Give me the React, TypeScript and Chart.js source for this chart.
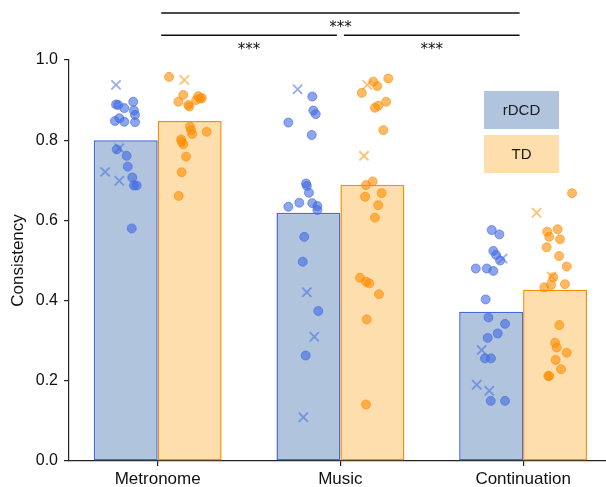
import React, { useEffect, useRef } from "react";
import { Chart, registerables } from "chart.js";

Chart.register(...registerables);

const categories = ["Metronome", "Music", "Continuation"];
const seriesNames = ["rDCD", "TD"];
const rdcdMean = [0.8, 0.619, 0.372];
const tdMean = [0.848, 0.689, 0.427];
const yTicks = [0, 0.2, 0.4, 0.6, 0.8, 1.0];

// [x = category index + jitter, consistency]
const rdcdCircles: number[][] = [
  [-0.228, 0.889], [-0.216, 0.888], [-0.183, 0.88], [-0.134, 0.896], [-0.13, 0.874],
  [-0.124, 0.863], [-0.21, 0.855], [-0.234, 0.848], [-0.183, 0.846], [-0.124, 0.845],
  [-0.224, 0.777], [-0.17, 0.761], [-0.164, 0.734], [-0.139, 0.707], [-0.13, 0.687],
  [-0.115, 0.687], [-0.142, 0.58],
  [0.846, 0.909], [0.852, 0.874], [0.865, 0.865], [0.715, 0.844], [0.843, 0.813],
  [0.812, 0.692], [0.816, 0.686], [0.828, 0.669], [0.715, 0.634], [0.775, 0.644],
  [0.846, 0.643], [0.874, 0.636], [0.874, 0.626], [0.802, 0.559], [0.794, 0.497],
  [0.879, 0.374], [0.81, 0.263],
  [1.828, 0.576], [1.87, 0.565], [1.837, 0.524], [1.852, 0.514], [1.874, 0.5],
  [1.741, 0.48], [1.801, 0.48], [1.837, 0.474], [1.795, 0.403], [1.81, 0.358],
  [1.901, 0.342], [1.861, 0.318], [1.806, 0.307], [1.791, 0.256], [1.824, 0.256],
  [1.823, 0.15], [1.901, 0.15],
];
const rdcdCrosses: number[][] = [
  [-0.228, 0.938], [-0.21, 0.78], [-0.288, 0.721], [-0.21, 0.699],
  [0.766, 0.927], [0.816, 0.421], [0.857, 0.31], [0.797, 0.109],
  [1.888, 0.505], [1.773, 0.277], [1.746, 0.19], [1.815, 0.175],
];
const tdCircles: number[][] = [
  [0.062, 0.958], [0.14, 0.913], [0.113, 0.896], [0.167, 0.888], [0.173, 0.884],
  [0.222, 0.91], [0.232, 0.904], [0.21, 0.9], [0.242, 0.905], [0.177, 0.834],
  [0.182, 0.825], [0.189, 0.815], [0.268, 0.821], [0.128, 0.802], [0.131, 0.796],
  [0.14, 0.79], [0.155, 0.759], [0.131, 0.72], [0.115, 0.661],
  [1.262, 0.954], [1.18, 0.946], [1.202, 0.935], [1.117, 0.918], [1.25, 0.896],
  [1.207, 0.886], [1.189, 0.881], [1.235, 0.825], [1.177, 0.697], [1.14, 0.688],
  [1.226, 0.668], [1.135, 0.659], [1.207, 0.638], [1.189, 0.607], [1.107, 0.457],
  [1.14, 0.447], [1.158, 0.443], [1.211, 0.416], [1.144, 0.353], [1.14, 0.141],
  [2.268, 0.668], [2.132, 0.572], [2.189, 0.578], [2.143, 0.559], [2.202, 0.553],
  [2.129, 0.533], [2.197, 0.511], [2.239, 0.485], [2.165, 0.458], [2.153, 0.439],
  [2.116, 0.433], [2.229, 0.441], [2.198, 0.339], [2.175, 0.295], [2.184, 0.283],
  [2.239, 0.27], [2.178, 0.252], [2.208, 0.229], [2.138, 0.212], [2.143, 0.212],
];
const tdCrosses: number[][] = [
  [0.146, 0.95],
  [1.147, 0.938], [1.129, 0.761],
  [2.074, 0.619], [2.157, 0.46],
];

const brackets = [
  { from: 0, to: 2, level: 1.117 },
  { from: 0, to: 1, level: 1.062 },
  { from: 1, to: 2, level: 1.062 },
];
const bracketLabel = "***";

const FONT = '"Liberation Sans", Arial, sans-serif';
const BLUE_FILL = "rgb(176,196,222)";
const BLUE_EDGE = "rgb(65,105,225)";
const BLUE_PT = "rgba(65,105,225,0.6)";
const ORANGE_FILL = "rgb(255,222,173)";
const ORANGE_EDGE = "rgb(255,140,0)";
const ORANGE_PT = "rgba(255,140,0,0.6)";

const overlayPlugin = {
  id: "overlay",
  afterDraw(chart: any) {
    const { ctx } = chart;
    const x = chart.scales.x;
    const y = chart.scales.y;
    ctx.save();
    ctx.strokeStyle = "#111";
    ctx.lineWidth = 1.5;
    ctx.fillStyle = "#111";
    ctx.font = '15px "DejaVu Sans", sans-serif';
    ctx.textAlign = "center";
    ctx.textBaseline = "alphabetic";
    brackets.forEach((b) => {
      const x1 = x.getPixelForValue(b.from) + 3.5;
      const x2 = x.getPixelForValue(b.to) - 3.5;
      const py = y.getPixelForValue(b.level);
      ctx.beginPath();
      ctx.moveTo(x1, py);
      ctx.lineTo(x2, py);
      ctx.stroke();
      ctx.fillText(bracketLabel, (x1 + x2) / 2, py + 19);
    });
    // legend boxes
    const fills = [BLUE_FILL, ORANGE_FILL];
    const bx = chart.chartArea.right - 122;
    const bw = 75;
    const bh = 38;
    ctx.font = "15px " + FONT;
    ctx.textBaseline = "middle";
    seriesNames.forEach((name, i) => {
      const by = 91 + i * 44;
      ctx.fillStyle = fills[i];
      ctx.fillRect(bx, by, bw, bh);
      ctx.fillStyle = "#1a1a1a";
      ctx.fillText(name, bx + bw / 2, by + bh / 2 + 1);
    });
    ctx.restore();
  },
};

export default function App() {
  const ref = useRef<HTMLCanvasElement | null>(null);
  useEffect(() => {
    if (!ref.current) return;
    const toPts = (arr: number[][]) => arr.map(([a, b]) => ({ x: a, y: b }));
    const chart = new Chart(ref.current, {
      type: "bar",
      data: {
        datasets: [
          {
            type: "bar",
            label: seriesNames[0],
            data: rdcdMean.map((v, i) => ({ x: i, y: v })) as any,
            backgroundColor: BLUE_FILL,
            borderColor: BLUE_EDGE,
            borderWidth: 1.5,
            borderSkipped: false,
            categoryPercentage: 0.7,
            barPercentage: 1.0,
            order: 2,
          },
          {
            type: "bar",
            label: seriesNames[1],
            data: tdMean.map((v, i) => ({ x: i, y: v })) as any,
            backgroundColor: ORANGE_FILL,
            borderColor: ORANGE_EDGE,
            borderWidth: 1.5,
            borderSkipped: false,
            categoryPercentage: 0.7,
            barPercentage: 1.0,
            order: 2,
          },
          {
            type: "scatter",
            label: "rDCD points",
            data: toPts(rdcdCircles),
            pointStyle: "circle",
            pointRadius: 4.5,
            backgroundColor: BLUE_PT,
            borderColor: BLUE_PT,
            borderWidth: 1,
            order: 0,
          } as any,
          {
            type: "scatter",
            label: "rDCD crosses",
            data: toPts(rdcdCrosses),
            pointStyle: "crossRot",
            pointRadius: 6.5,
            borderColor: "rgba(65,105,225,0.55)",
            borderWidth: 1.8,
            order: 0,
          } as any,
          {
            type: "scatter",
            label: "TD points",
            data: toPts(tdCircles),
            pointStyle: "circle",
            pointRadius: 4.5,
            backgroundColor: ORANGE_PT,
            borderColor: ORANGE_PT,
            borderWidth: 1,
            order: 0,
          } as any,
          {
            type: "scatter",
            label: "TD crosses",
            data: toPts(tdCrosses),
            pointStyle: "crossRot",
            pointRadius: 6.5,
            borderColor: "rgba(255,140,0,0.55)",
            borderWidth: 1.8,
            order: 0,
          } as any,
        ],
      },
      options: {
        animation: false,
        responsive: true,
        maintainAspectRatio: false,
        events: [],
        layout: { autoPadding: false, padding: { top: 60, left: 0, right: 0, bottom: 0 } },
        plugins: { legend: { display: false }, tooltip: { enabled: false } },
        scales: {
          x: {
            type: "linear",
            min: -0.4855,
            max: 2.4537,
            offset: false,
            bounds: "data",
            grid: {
              offset: false,
              drawOnChartArea: false,
              drawTicks: true,
              tickLength: 5,
              color: "#222",
              lineWidth: 1.2,
            },
            border: { display: true, color: "#222", width: 1.2 },
            ticks: {
              autoSkip: false,
              maxRotation: 0,
              padding: 3,
              color: "#111",
              font: { family: FONT, size: 17 },
              callback: (v: any) => categories[Math.round(Number(v))] ?? "",
            },
            afterBuildTicks: (s: any) => {
              s.ticks = categories.map((_, i) => ({ value: i }));
            },
            afterFit: (s: any) => {
              s.height = 26;
              s.paddingLeft = 0;
              s.paddingRight = 0;
            },
          } as any,
          y: {
            type: "linear",
            min: 0,
            max: 1,
            grid: {
              drawOnChartArea: false,
              drawTicks: true,
              tickLength: 5,
              color: "#222",
              lineWidth: 1.2,
            },
            border: { display: true, color: "#222", width: 1.2 },
            ticks: {
              padding: 6,
              color: "#111",
              font: { family: FONT, size: 16 },
              callback: (v: any) => Number(v).toFixed(1),
            },
            afterBuildTicks: (s: any) => {
              s.ticks = yTicks.map((v) => ({ value: v }));
            },
            title: {
              display: true,
              text: "Consistency",
              color: "#111",
              font: { family: FONT, size: 17 },
              padding: { top: 8, bottom: 0 },
            },
            afterFit: (s: any) => {
              s.width = 69;
              s.paddingTop = 0;
              s.paddingBottom = 0;
            },
          } as any,
        },
      },
      plugins: [overlayPlugin],
    });
    return () => chart.destroy();
  }, []);
  return (
    <div style={{ position: "absolute", left: 0, top: 0, width: 606, height: 487 }}>
      <canvas ref={ref} />
    </div>
  );
}
